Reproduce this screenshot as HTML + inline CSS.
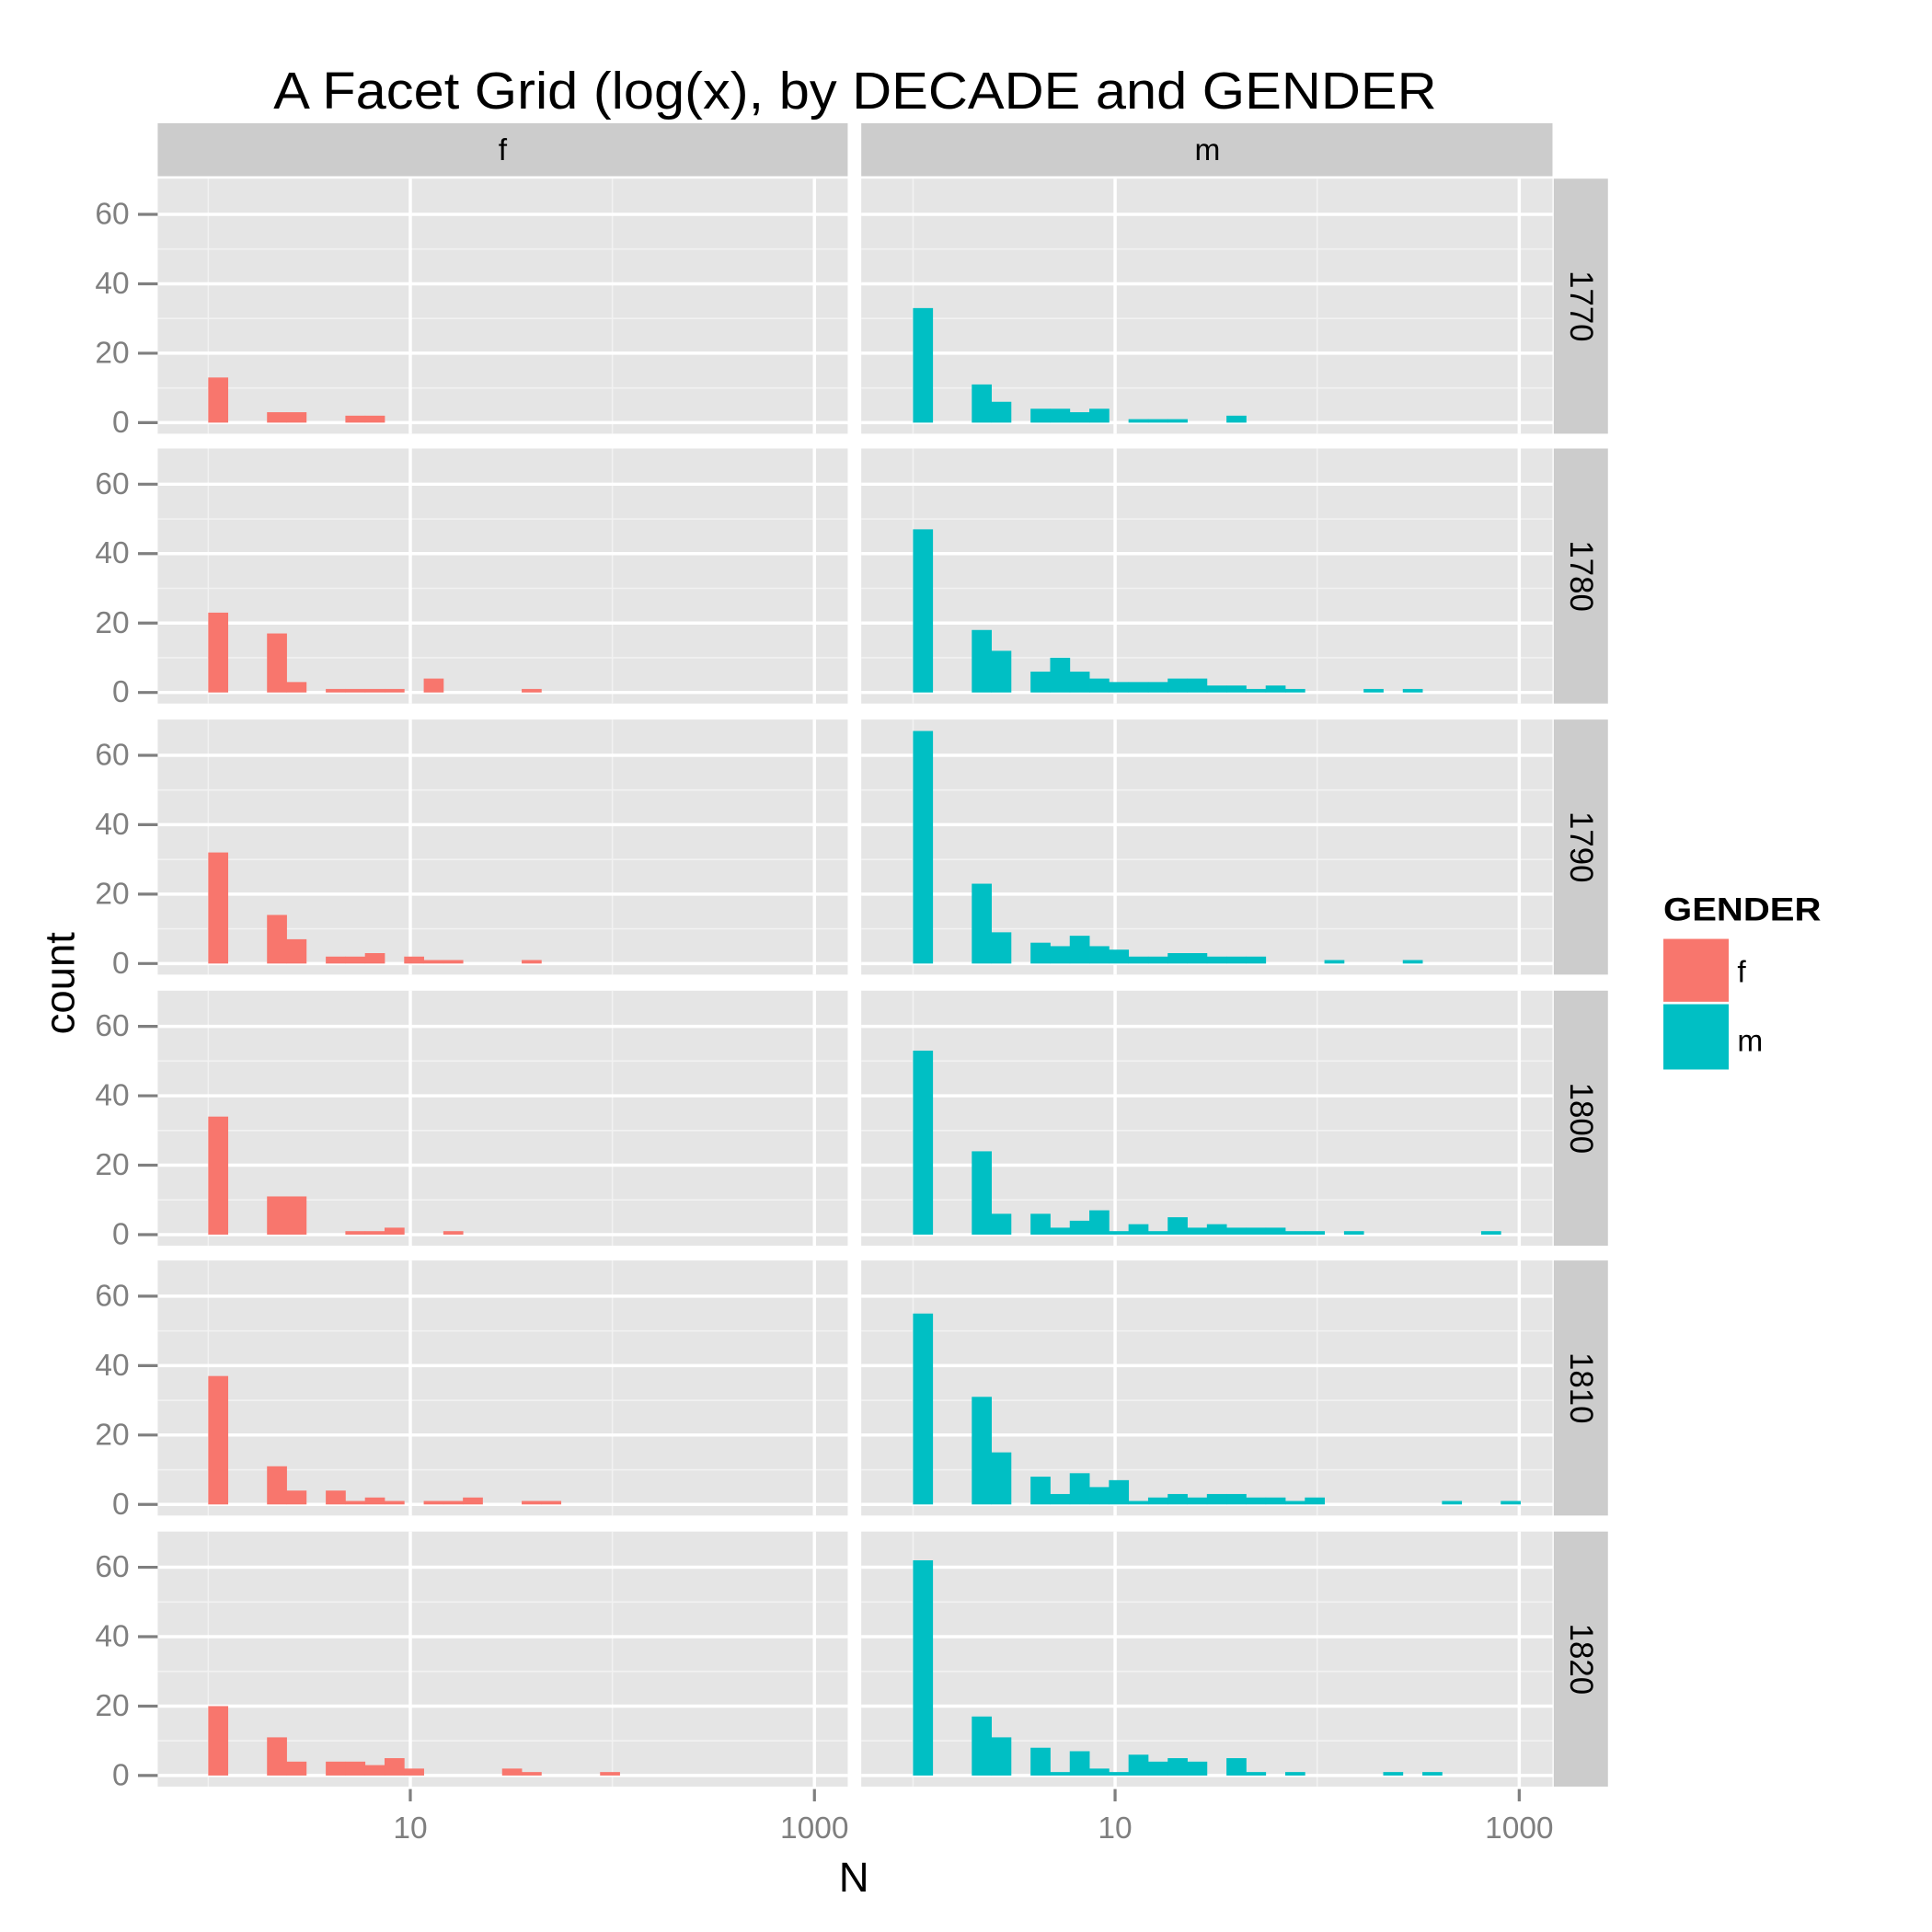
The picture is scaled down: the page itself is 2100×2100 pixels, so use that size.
<!DOCTYPE html>
<html><head><meta charset="utf-8"><style>html,body{margin:0;padding:0;background:#fff}svg{display:block}</style></head>
<body>
<svg id="s" width="2100" height="2100" viewBox="0 0 1568 1568" xmlns="http://www.w3.org/2000/svg" font-family="Liberation Sans, sans-serif">
<rect width="1568" height="1568" fill="#fff"/>
<g id="g"></g>
<text x="694" y="88" font-size="42" text-anchor="middle" fill="#000" textLength="944" lengthAdjust="spacingAndGlyphs">A Facet Grid (log(x), by DECADE and GENDER</text>
<rect x="128" y="100" width="560" height="43" fill="#cccccc"/>
<rect x="699" y="100" width="561" height="43" fill="#cccccc"/>
<text x="408" y="122" font-size="25" text-anchor="middle" dominant-baseline="central">f</text>
<text x="980" y="122" font-size="25" text-anchor="middle" dominant-baseline="central">m</text>
<g font-size="26" dominant-baseline="central">
<text transform="translate(1283,248.5) rotate(90)" text-anchor="middle">1770</text>
<text transform="translate(1283,467.5) rotate(90)" text-anchor="middle">1780</text>
<text transform="translate(1283,687.5) rotate(90)" text-anchor="middle">1790</text>
<text transform="translate(1283,907.5) rotate(90)" text-anchor="middle">1800</text>
<text transform="translate(1283,1126.5) rotate(90)" text-anchor="middle">1810</text>
<text transform="translate(1283,1346.5) rotate(90)" text-anchor="middle">1820</text>
</g>
<g font-size="25" fill="#7f7f7f" text-anchor="end" dominant-baseline="central">
<text x="105" y="343">0</text><text x="105" y="286.7">20</text><text x="105" y="230.3">40</text><text x="105" y="174">60</text>
<text x="105" y="562">0</text><text x="105" y="505.7">20</text><text x="105" y="449.3">40</text><text x="105" y="393">60</text>
<text x="105" y="782">0</text><text x="105" y="725.7">20</text><text x="105" y="669.3">40</text><text x="105" y="613">60</text>
<text x="105" y="1002">0</text><text x="105" y="945.7">20</text><text x="105" y="889.3">40</text><text x="105" y="833">60</text>
<text x="105" y="1221">0</text><text x="105" y="1164.7">20</text><text x="105" y="1108.3">40</text><text x="105" y="1052">60</text>
<text x="105" y="1441">0</text><text x="105" y="1384.7">20</text><text x="105" y="1328.3">40</text><text x="105" y="1272">60</text>
</g>
<g font-size="25" fill="#7f7f7f" text-anchor="middle">
<text x="333" y="1492">10</text><text x="661" y="1492">1000</text>
<text x="905" y="1492">10</text><text x="1233" y="1492">1000</text>
</g>
<text x="693" y="1535" font-size="34" text-anchor="middle">N</text>
<text transform="translate(60,798) rotate(-90)" font-size="34" text-anchor="middle">count</text>
<text x="1350" y="747" font-size="26" font-weight="bold" textLength="128" lengthAdjust="spacingAndGlyphs">GENDER</text>
<rect x="1350" y="762" width="53" height="51" fill="#f8766d"/>
<rect x="1350" y="815" width="53" height="53" fill="#00bfc4"/>
<text x="1410" y="797" font-size="25">f</text>
<text x="1410" y="853" font-size="25">m</text>
</svg>
<script>
(function(){
var g=document.getElementById('g'),NS='http://www.w3.org/2000/svg';
function r(x,y,w,h,f){var e=document.createElementNS(NS,'rect');e.setAttribute('x',x);e.setAttribute('y',y);e.setAttribute('width',w);e.setAttribute('height',h);e.setAttribute('fill',f);g.appendChild(e);}
function l(x1,y1,x2,y2,c,w){var e=document.createElementNS(NS,'line');e.setAttribute('x1',x1);e.setAttribute('y1',y1);e.setAttribute('x2',x2);e.setAttribute('y2',y2);e.setAttribute('stroke',c);e.setAttribute('stroke-width',w);g.appendChild(e);}
var T=[145,364,584,804,1023,1243],H=207,P=[[128,560,0],[699,561,572]],u=2.817,bw=15.9;
var D=[
[[[0,13],[3,3],[4,3],[7,2],[8,2]],
 [[0,33],[3,11],[4,6],[6,4],[7,4],[8,3],[9,4],[11,1],[12,1],[13,1],[16,2]]],
[[[0,23],[3,17],[4,3],[6,1],[7,1],[8,1],[9,1],[11,4],[16,1]],
 [[0,47],[3,18],[4,12],[6,6],[7,10],[8,6],[9,4],[10,3],[11,3],[12,3],[13,4],[14,4],[15,2],[16,2],[17,1],[18,2],[19,1],[23,1],[25,1]]],
[[[0,32],[3,14],[4,7],[6,2],[7,2],[8,3],[10,2],[11,1],[12,1],[16,1]],
 [[0,67],[3,23],[4,9],[6,6],[7,5],[8,8],[9,5],[10,4],[11,2],[12,2],[13,3],[14,3],[15,2],[16,2],[17,2],[21,1],[25,1]]],
[[[0,34],[3,11],[4,11],[7,1],[8,1],[9,2],[12,1]],
 [[0,53],[3,24],[4,6],[6,6],[7,2],[8,4],[9,7],[10,1],[11,3],[12,1],[13,5],[14,2],[15,3],[16,2],[17,2],[18,2],[19,1],[20,1],[22,1],[29,1]]],
[[[0,37],[3,11],[4,4],[6,4],[7,1],[8,2],[9,1],[11,1],[12,1],[13,2],[16,1],[17,1]],
 [[0,55],[3,31],[4,15],[6,8],[7,3],[8,9],[9,5],[10,7],[11,1],[12,2],[13,3],[14,2],[15,3],[16,3],[17,2],[18,2],[19,1],[20,2],[27,1],[30,1]]],
[[[0,20],[3,11],[4,4],[6,4],[7,4],[8,3],[9,5],[10,2],[15,2],[16,1],[20,1]],
 [[0,62],[3,17],[4,11],[6,8],[7,1],[8,7],[9,2],[10,1],[11,6],[12,4],[13,5],[14,4],[16,5],[17,1],[19,1],[24,1],[26,1]]]
];
for(var i=0;i<6;i++){var t=T[i],y0=t+198;
 r(1261,t,44,H,'#cccccc');
 for(var j=0;j<2;j++){var p=P[j],x0=p[0],w=p[1],o=p[2];
  r(x0,t,w,H,'#e5e5e5');
  [10,30,50].forEach(function(v){l(x0,y0-u*v,x0+w,y0-u*v,'#f2f2f2',1.2)});
  [169,497].forEach(function(x){l(x+o,t,x+o,t+H,'#f2f2f2',1.2)});
  [0,20,40,60].forEach(function(v){l(x0,y0-u*v,x0+w,y0-u*v,'#fff',2.6)});
  [333,661].forEach(function(x){l(x+o,t,x+o,t+H,'#fff',2.6)});
  D[i][j].forEach(function(b){var x=169+o+bw*b[0];r(x,y0-u*b[1],bw+0.3,u*b[1],j?'#00bfc4':'#f8766d')});
 }
 [0,20,40,60].forEach(function(v){l(112,y0-u*v,128,y0-u*v,'#7f7f7f',2.4)});
}
[333,661,905,1233].forEach(function(x){l(x,1452,x,1462,'#7f7f7f',2.4)});
})();
</script>
</body></html>
